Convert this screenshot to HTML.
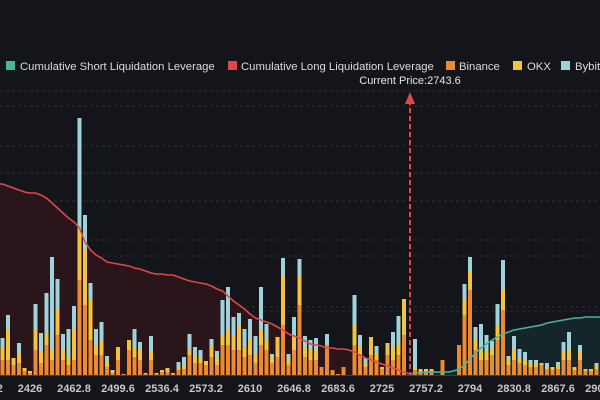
<!DOCTYPE html>
<html><head><meta charset="utf-8">
<style>
html,body{margin:0;padding:0;background:#13151b;}
svg{display:block;font-family:"Liberation Sans",sans-serif;}
</style></head>
<body>
<svg id="chart" width="600" height="400" viewBox="0 0 600 400" xmlns="http://www.w3.org/2000/svg">
<rect x="0" y="0" width="600" height="400" fill="#13151b"/>
<g id="grid"></g>
<g id="areas"></g>
<g id="bars"></g>
<g id="lines"></g>
<g id="xaxis"></g>
<g>
  <line x1="410" y1="100" x2="410" y2="375" stroke="#e04848" stroke-width="2" stroke-dasharray="5,3"/>
  <polygon points="405,104 410,92 415,104" fill="#e04848"/>
  <text x="410" y="84" fill="#e6e6e6" font-size="11" text-anchor="middle">Current Price:2743.6</text>
</g>
<g font-size="11.3" fill="#dcdcdc">
  <g><rect x="6" y="61" width="9" height="9" fill="#48b59b"/><text x="20" y="70">Cumulative Short Liquidation Leverage</text></g>
  <g><rect x="228" y="61" width="9" height="9" fill="#e04848"/><text x="241" y="70">Cumulative Long Liquidation Leverage</text></g>
  <g><rect x="446" y="61" width="9" height="9" fill="#eb8a32"/><text x="459" y="70">Binance</text></g>
  <g><rect x="513" y="61" width="9" height="9" fill="#f2c43e"/><text x="527" y="70">OKX</text></g>
  <g><rect x="561" y="61" width="9" height="9" fill="#9fd3dc"/><text x="575" y="70">Bybit</text></g>
</g>
</svg>
<script>
const binance=[15,15,10,12,4,2,25,12,30,15,40,15,10,15,95,70,35,20,20,8,2,15,1,25,18,15,1,15,1,3,3,1,5,6,20,12,12,10,18,10,30,30,25,25,18,20,12,30,25,12,18,50,10,25,70,18,15,15,8,30,5,1,8,0,30,20,8,20,15,6,20,15,20,40,0,5,3,3,3,0,15,0,0,30,60,85,25,15,15,20,35,65,10,15,12,10,8,8,10,6,5,6,15,15,5,15,4,4,6];
const okx=[12,30,7,10,3,2,20,12,12,10,25,10,8,30,50,55,40,10,13,5,1,13,0,10,10,10,1,8,1,2,4,1,3,4,6,8,5,4,12,8,10,15,15,25,10,15,10,15,10,5,20,50,5,15,30,10,10,10,0,0,0,0,0,0,20,10,4,18,6,2,12,12,12,36,0,3,3,3,3,0,0,0,0,0,15,18,10,10,8,8,15,20,5,10,5,5,3,3,2,2,3,3,8,10,3,8,2,2,3];
const bybit=[10,15,0,10,0,0,26,18,40,93,31,16,28,24,112,35,17,16,20,6,2,0,0,0,18,8,0,16,0,0,0,0,5,8,15,8,8,0,6,6,35,43,18,12,18,21,17,43,16,4,0,17,6,18,16,11,10,12,0,11,0,0,0,0,30,10,5,0,8,0,0,16,27,0,0,28,0,0,0,0,0,0,0,0,16,15,13,26,17,6,21,30,4,14,9,8,4,4,0,4,0,4,10,18,0,7,0,0,3];
const cumLong=[191,189,187,185,183,182,182,180,177,172,167,162,157,153,147,133,125,120,117,113,112,111,110,109,107,106,104,102,101,101,100,100,98,96,94,93,92,91,89,86,84,79,74,70,66,61,57,55,53,51,48,45,41,39,37,34,31,30,29,27,27,26,26,25,23,20,17,15,13,11,9,7,5,3,1];
const cumShort=[1,2,2,3,3,3,3,3,4,6,10,16,22,27,31,35,38,41,43,45,46,47,48,49,50,52,53,54,55,56,57,57,58,58,58];
const shortStart=74;
const tickLabels=["2389.2","2426","2462.8","2499.6","2536.4","2573.2","2610","2646.8","2683.6","2725","2757.2","2794","2830.8","2867.6","2904.4"];
const tickStartIndex=-3, tickEvery=8;

const NS="http://www.w3.org/2000/svg";
const baseY=375, x0=2.5, step=5.5, barW=4;
function xScale(i){return x0+i*step;}
function yScale(v){return baseY-v;}
function mk(tag,attrs,parent){const e=document.createElementNS(NS,tag);for(const k in attrs)e.setAttribute(k,attrs[k]);parent.appendChild(e);return e;}

const grid=document.getElementById('grid');
[91,146,201,256,311,106,173,240,307].forEach(y=>{
  const l=mk('line',{x1:0,x2:600,y1:y,y2:y,stroke:'#2c2f37','stroke-width':1,'stroke-dasharray':'3,3'},grid);
  
  
});

const areas=document.getElementById('areas');
let lp=`M0,${baseY} L0,${yScale(cumLong[0])} `;
cumLong.forEach((v,i)=>{lp+=`L${xScale(i)},${yScale(v)} `;});
const longEndX=xScale(cumLong.length-1);
const la=mk('path',{d:lp+`L${longEndX},${baseY} Z`,fill:'#2a151b'},areas);


let sp=`M${xScale(shortStart)},${baseY} `;
cumShort.forEach((v,i)=>{sp+=`L${xScale(shortStart+i)},${yScale(v)} `;});
sp+=`L600,${yScale(cumShort[cumShort.length-1])} L600,${baseY} Z`;
const sa=mk('path',{d:sp,fill:'#15262a'},areas);



const bars=document.getElementById('bars');
binance.forEach((b,i)=>{
  const x=xScale(i)-barW/2;
  const o=okx[i], y=bybit[i];
  if(b>0){const r=mk('rect',{x:x,y:yScale(b),width:barW,height:b,fill:'#eb8a32'},bars);
    
    }
  if(o>0){const r=mk('rect',{x:x,y:yScale(b+o),width:barW,height:o,fill:'#f2c43e'},bars);
    
    }
  if(y>0){const r=mk('rect',{x:x,y:yScale(b+o+y),width:barW,height:y,fill:'#9fd3dc'},bars);
    
    }
});

const lines=document.getElementById('lines');
let ll=`M0,${yScale(cumLong[0])} `;
cumLong.forEach((v,i)=>{ll+=`L${xScale(i)},${yScale(v)} `;});
const lline=mk('path',{d:ll,fill:'none',stroke:'#e04848','stroke-width':1.6},lines);


let sl='';
cumShort.forEach((v,i)=>{sl+=(i?'L':'M')+`${xScale(shortStart+i)},${yScale(v)} `;});
sl+=`L600,${yScale(cumShort[cumShort.length-1])}`;
const sline=mk('path',{d:sl,fill:'none',stroke:'#48b59b','stroke-width':1.6},lines);



const xa=document.getElementById('xaxis');
const ax=mk('line',{x1:0,x2:600,y1:baseY+0.5,y2:baseY+0.5,stroke:'#3a3d45','stroke-width':1},xa);


tickLabels.forEach((t,k)=>{
  const i=tickStartIndex+k*tickEvery;
  const tx=mk('text',{x:xScale(i),y:392,fill:'#c8c8c8','font-size':11,'font-weight':'bold','text-anchor':'middle'},xa);
  tx.textContent=t;
  
  
});
</script>
</body></html>
